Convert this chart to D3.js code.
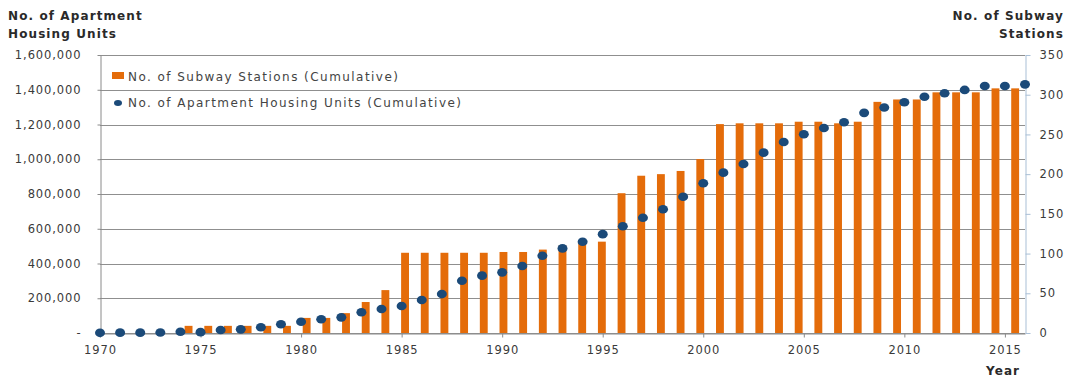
<!DOCTYPE html>
<html>
<head>
<meta charset="utf-8">
<script src="https://cdn.jsdelivr.net/npm/d3@7"></script>
<style>
  body { margin: 0; background: #fff; }
  text { font-family: "DejaVu Sans", sans-serif; fill: #3a3a3a; }
  .tick text { font-size: 11.5px; letter-spacing: 0.9px; }
  .title { font-size: 12px; font-weight: bold; fill: #2a2a2a; letter-spacing: 1.1px; }
  .legend-label { font-size: 12px; letter-spacing: 1.45px; fill: #444; }
</style>
</head>
<body>
<div id="chart"></div>
<script>
const years = [1970, 1971, 1972, 1973, 1974, 1975, 1976, 1977, 1978, 1979,
               1980, 1981, 1982, 1983, 1984, 1985, 1986, 1987, 1988, 1989,
               1990, 1991, 1992, 1993, 1994, 1995, 1996, 1997, 1998, 1999,
               2000, 2001, 2002, 2003, 2004, 2005, 2006, 2007, 2008, 2009,
               2010, 2011, 2012, 2013, 2014, 2015, 2016];

// cumulative subway stations (right axis)
const subwayStations = [0, 0, 0, 0, 9, 9, 9, 9, 9, 9,
                        19, 19, 25, 39, 54, 101, 101, 101, 101, 101,
                        102, 102, 105, 110, 115, 115, 176, 198, 200, 204,
                        219, 263, 264, 264, 264, 266, 266, 264, 266, 291,
                        294, 294, 303, 303, 303, 308, 308];

// cumulative apartment housing units (left axis)
const apartmentUnits = [1000, 2000, 2000, 3000, 7000, 5000, 17000, 21000, 33000, 50000,
                        65000, 79000, 90000, 119000, 138000, 155000, 190000, 224000, 301000, 330000,
                        349000, 386000, 445000, 487000, 525000, 569000, 614000, 663000, 712000, 784000,
                        862000, 923000, 973000, 1038000, 1099000, 1144000, 1180000, 1213000, 1267000, 1298000,
                        1328000, 1360000, 1380000, 1399000, 1422000, 1422000, 1431000];

const leftTicks = [0, 200000, 400000, 600000, 800000, 1000000, 1200000, 1400000, 1600000];
const rightTicks = [0, 50, 100, 150, 200, 250, 300, 350];
const yearTicks = [1970, 1975, 1980, 1985, 1990, 1995, 2000, 2005, 2010, 2015];

const width = 1073, height = 377;
const margin = {top: 55, right: 48, bottom: 44, left: 100};
const x0 = margin.left, x1 = width - margin.right;
const yTop = margin.top, yBottom = height - margin.bottom;

const svg = d3.select("#chart").append("svg")
    .attr("width", width)
    .attr("height", height);

const xPoint = d3.scalePoint()
    .domain(years)
    .range([x0, x1]);

const xBand = d3.scaleBand()
    .domain(years)
    .range([x0, x1])
    .paddingInner(0.6)
    .paddingOuter(0.3);

const yLeft = d3.scaleLinear()
    .domain([0, 1600000])
    .range([yBottom, yTop]);

const yRight = d3.scaleLinear()
    .domain([0, 350])
    .range([yBottom, yTop]);

// gridlines
svg.append("g")
    .selectAll("line")
    .data(leftTicks)
    .enter().append("line")
    .attr("x1", x0)
    .attr("x2", x1)
    .attr("y1", d => Math.round(yLeft(d)) + 0.5)
    .attr("y2", d => Math.round(yLeft(d)) + 0.5)
    .attr("stroke", "#8f8f8f")
    .attr("stroke-width", 1);

// bars
svg.append("g")
    .selectAll(".bar")
    .data(years)
    .enter().append("rect")
    .attr("class", "bar")
    .attr("x", d => xBand(d))
    .attr("y", (d, i) => yRight(subwayStations[i]))
    .attr("width", xBand.bandwidth())
    .attr("height", (d, i) => yBottom - yRight(subwayStations[i]))
    .attr("fill", "#e46c0a");

// left axis
const leftAxis = svg.append("g")
    .attr("transform", `translate(${x0 + 0.5},0)`)
    .call(d3.axisLeft(yLeft)
        .tickValues(leftTicks)
        .tickSize(3)
        .tickSizeOuter(0)
        .tickPadding(16)
        .tickFormat(d => d === 0 ? "-" : d3.format(",")(d)));

// right axis
const rightAxis = svg.append("g")
    .attr("transform", `translate(${x1 + 0.5},0)`)
    .call(d3.axisRight(yRight)
        .tickValues(rightTicks)
        .tickSize(5)
        .tickSizeOuter(0)
        .tickPadding(9));

// bottom axis
const bottomAxis = svg.append("g")
    .attr("transform", `translate(0,${yBottom + 0.5})`)
    .call(d3.axisBottom(xPoint)
        .tickValues(yearTicks)
        .tickSize(4)
        .tickSizeOuter(0)
        .tickPadding(8));

svg.selectAll(".domain").attr("stroke", "#8a8a8a");
svg.selectAll(".tick line").attr("stroke", "#8a8a8a");
rightAxis.select(".domain").attr("stroke", "#a9bfd6");
rightAxis.selectAll(".tick line").attr("stroke", "#a9bfd6");
svg.selectAll(".tick text").attr("fill", "#3a3a3a").attr("font-family", null).attr("font-size", null);

// dots
svg.append("g")
    .selectAll(".dot")
    .data(years)
    .enter().append("ellipse")
    .attr("class", "dot")
    .attr("cx", d => xPoint(d))
    .attr("cy", (d, i) => yLeft(apartmentUnits[i]))
    .attr("rx", 5)
    .attr("ry", 4.3)
    .attr("fill", "#1b4a79");

// legend
const legend = svg.append("g");
legend.append("rect")
    .attr("x", 112).attr("y", 72)
    .attr("width", 12).attr("height", 7)
    .attr("fill", "#e46c0a");
legend.append("text")
    .attr("class", "legend-label")
    .attr("x", 128).attr("y", 81)
    .text("No. of Subway  Stations (Cumulative)");
legend.append("ellipse")
    .attr("cx", 118).attr("cy", 103)
    .attr("rx", 4).attr("ry", 3)
    .attr("fill", "#1b4a79");
legend.append("text")
    .attr("class", "legend-label")
    .attr("x", 128).attr("y", 107)
    .text("No. of Apartment Housing Units (Cumulative)");

// axis titles
svg.append("text").attr("class", "title")
    .attr("x", 8).attr("y", 20).text("No. of Apartment");
svg.append("text").attr("class", "title")
    .attr("x", 8).attr("y", 38).text("Housing Units");
svg.append("text").attr("class", "title")
    .attr("x", 1064).attr("y", 20).attr("text-anchor", "end").text("No. of Subway");
svg.append("text").attr("class", "title")
    .attr("x", 1064).attr("y", 38).attr("text-anchor", "end").text("Stations");
svg.append("text").attr("class", "title")
    .attr("x", 986).attr("y", 375).text("Year");
</script>
</body>
</html>
